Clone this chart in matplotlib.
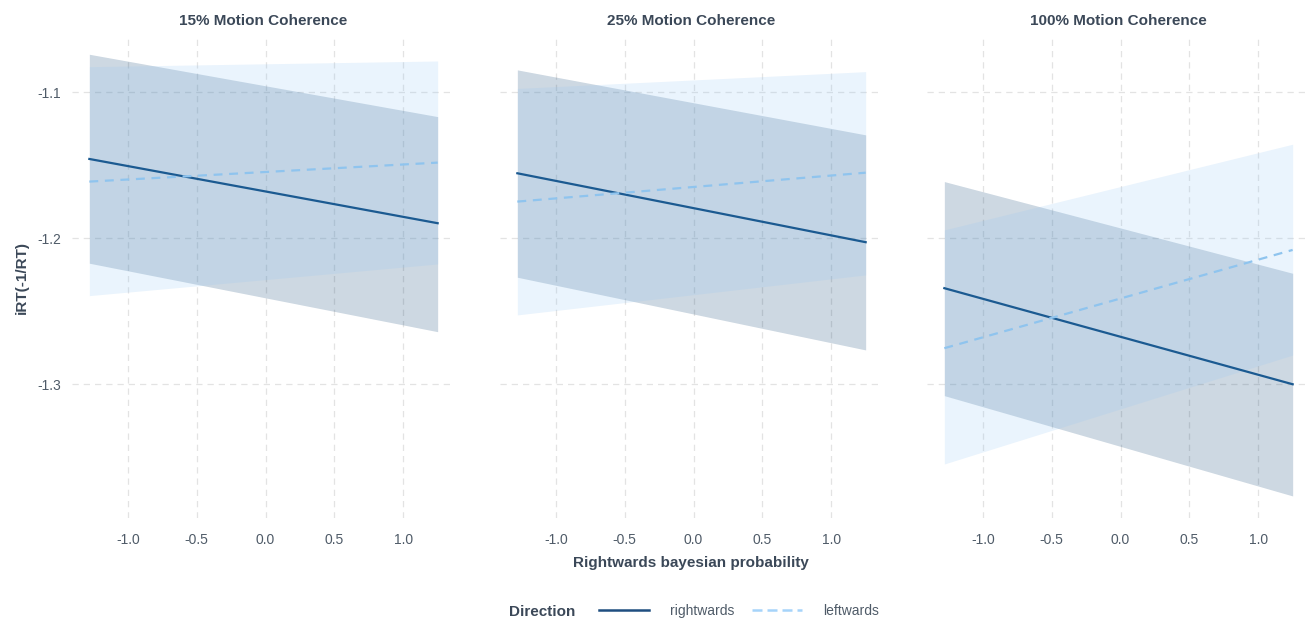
import matplotlib.pyplot as plt
from matplotlib.lines import Line2D

plt.rcParams['font.family'] = ['Liberation Sans', 'DejaVu Sans']

# data (band and line ends at x = -1.28 and 1.25)
x_ends = [-1.28, 1.25]
panels = ["15% Motion Coherence", "25% Motion Coherence", "100% Motion Coherence"]

right_fit = [[-1.1457, -1.1897], [-1.1555, -1.2027], [-1.2342, -1.3000]]
right_hi = [[-1.0740, -1.1167], [-1.0847, -1.1292], [-1.1612, -1.2240]]
right_lo = [[-1.2171, -1.2640], [-1.2267, -1.2765], [-1.3078, -1.3765]]

left_fit = [[-1.1612, -1.1482], [-1.1749, -1.1551], [-1.2753, -1.2080]]
left_hi = [[-1.0825, -1.0786], [-1.0974, -1.0859], [-1.1943, -1.1356]]
left_lo = [[-1.2393, -1.2176], [-1.2525, -1.2251], [-1.3546, -1.2800]]

x_ticks = [-1.0, -0.5, 0.0, 0.5, 1.0]
y_ticks = [-1.1, -1.2, -1.3]

right_col = '#1b5a91'
left_col = '#8fc4ee'
text_col = '#3b4858'
tick_col = '#4f5b68'

W, H = 1314, 622
fig = plt.figure(figsize=(W / 100, H / 100), dpi=100)

lefts = [72, 500, 927]
for i, name in enumerate(panels):
    ax = fig.add_axes([lefts[i] / W, (H - 518) / H, 383 / W, 483 / H])
    ax.fill_between(x_ends, right_lo[i], right_hi[i], color='#053c6e', alpha=0.2, lw=0)
    ax.fill_between(x_ends, left_lo[i], left_hi[i], color='#96c8f5', alpha=0.2, lw=0)
    ax.plot(x_ends, right_fit[i], color=right_col, lw=1.6, zorder=3)
    ax.plot(x_ends, left_fit[i], color=left_col, lw=1.6, ls=(0, (4, 3)), zorder=3)
    ax.set_xlim(-1.406, 1.376)
    ax.set_ylim(-1.3916, -1.0608)
    ax.set_xticks(x_ticks)
    ax.set_xticklabels(['%.1f' % v for v in x_ticks])
    ax.set_yticks(y_ticks)
    ax.grid(True, color='#e3e3e3', lw=0.9, ls=(0, (5, 4)))
    ax.set_axisbelow(True)
    for s in ax.spines.values():
        s.set_visible(False)
    ax.tick_params(length=0, colors=tick_col, labelsize=10)
    ax.tick_params(axis='x', pad=11)
    ax.tick_params(axis='y', pad=8)
    if i > 0:
        ax.set_yticklabels([])
    else:
        ax.set_yticklabels(['%.1f' % v for v in y_ticks])
    ax.set_title(name, fontsize=11, fontweight='bold', color=text_col, pad=7.5)

fig.text(691 / W, 1 - 563 / H, "Rightwards bayesian probability", ha='center', va='center',
         fontsize=11, fontweight='bold', color=text_col)
fig.text(22 / W, 1 - 277 / H, "iRT(-1/RT)", ha='center', va='center', rotation=90,
         fontsize=11, fontweight='bold', color=text_col)

fig.text(542 / W, 1 - 612 / H, "Direction", ha='center', va='center',
         fontsize=11, fontweight='bold', color=text_col)
handles = [Line2D([], [], color='#1f4e80', lw=1.8),
           Line2D([], [], color='#a6d4fa', lw=1.8, ls=(0, (4, 2)))]
leg = fig.legend(handles, ['rightwards', 'leftwards'], ncol=2, loc='center',
                 bbox_to_anchor=(739 / W, 1 - 611 / H), frameon=False, fontsize=10,
                 handlelength=3.6, handletextpad=1.5, columnspacing=1.3)
for t in leg.get_texts():
    t.set_color(tick_col)

fig.savefig('out.png', dpi=100, facecolor='white')
